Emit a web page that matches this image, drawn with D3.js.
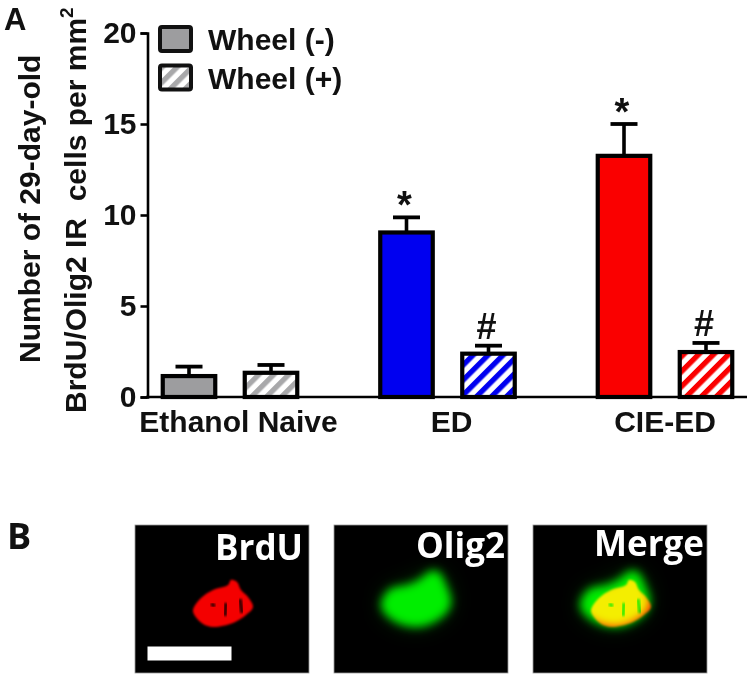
<!DOCTYPE html>
<html>
<head>
<meta charset="utf-8">
<title>BrdU/Olig2 cells</title>
<script src="https://d3js.org/d3.v7.min.js"></script>
<style>
  html, body { margin: 0; padding: 0; background: #fff; }
  svg { display: block; }
  text { font-family: "Liberation Sans", Arial, sans-serif; font-weight: bold; fill: #111; }
  .panelText { font-family: "Open Sans", sans-serif; }
</style>
</head>
<body>
<svg id="canvas" width="750" height="676"></svg>
<script>
// values
var groups = ['Ethanol Naive', 'ED', 'CIE-ED'];
var wheels = ['Wheel (-)', 'Wheel (+)'];
var means = [1.15, 1.33, 9.04, 2.38, 13.25, 2.47];
var errorTops = [1.67, 1.76, 9.87, 2.82, 15.0, 2.97];
var barColors = ['#9d9d9f', '#a8a8aa', '#0000f0', '#0000f0', '#fa0000', '#fa0000'];
var marks = ['', '', '*', '#', '*', '#'];
var yTicks = [0, 5, 10, 15, 20];

// cell outlines for the micrographs, in panel pixels
var redCell = [[58,85],[66,73],[78,65],[93,60],[96,55],[102,57],[106,65],[113,72],[118,82],[111,90],[98,98],[78,102],[68,99],[60,91]];
var greenCell = [[49,80],[57,66],[74,62],[87,56],[95,49],[103,48],[112,65],[115,78],[105,92],[82,100],[59,93]];
var cellScratches = [[[76,79],[80,81]], [[91,78],[90,91]], [[105,74],[107,88]]];

var panels = ['BrdU', 'Olig2', 'Merge'];
var panelBaselines = [35, 33, 31];
var panelRights = [168, 171, 171];

var svg = d3.select('#canvas');

// group band, then the two wheel bars inside it
var x0 = d3.scaleBand().domain(groups).range([121.25, 773.75]);
var x1 = d3.scalePoint().domain(wheels).range([67.75, 149.75]);
var y = d3.scaleLinear().domain([0, 20]).range([397, 33]);
var barWidth = 52.5;

function barX(i) {
  return x0(groups[Math.floor(i / 2)]) + x1(wheels[i % 2]);
}

// striped fills
var defs = svg.append('defs');
function addStripes(id, color) {
  var p = defs.append('pattern')
    .attr('id', id)
    .attr('patternUnits', 'userSpaceOnUse')
    .attr('width', 10.6)
    .attr('height', 10.6)
    .attr('patternTransform', 'rotate(-45)');
  p.append('rect').attr('width', 10.6).attr('height', 10.6).attr('fill', '#fff');
  p.append('rect').attr('width', 10.6).attr('height', 5.3).attr('fill', color);
}
addStripes('stripeGrey', barColors[1]);
addStripes('stripeBlue', barColors[3]);
addStripes('stripeRed', barColors[5]);
var stripeIds = { 1: 'stripeGrey', 3: 'stripeBlue', 5: 'stripeRed' };

defs.append('filter').attr('id', 'blurTiny').append('feGaussianBlur').attr('stdDeviation', 0.9);
defs.append('filter').attr('id', 'blurSoft')
  .attr('x', '-40%').attr('y', '-40%').attr('width', '180%').attr('height', '180%')
  .append('feGaussianBlur').attr('stdDeviation', 5);
defs.append('filter').attr('id', 'blurWide')
  .attr('x', '-80%').attr('y', '-80%').attr('width', '260%').attr('height', '260%')
  .append('feGaussianBlur').attr('stdDeviation', 13);

// error bars go under the bars
var errors = svg.append('g').selectAll('g')
  .data(means)
  .enter()
  .append('g');
errors.append('line')
  .attr('x1', function(d, i) { return barX(i); })
  .attr('x2', function(d, i) { return barX(i); })
  .attr('y1', function(d) { return y(d); })
  .attr('y2', function(d, i) { return y(errorTops[i]); })
  .attr('stroke', '#000')
  .attr('stroke-width', 3.6);
errors.append('line')
  .attr('x1', function(d, i) { return barX(i) - 13.5; })
  .attr('x2', function(d, i) { return barX(i) + 13.5; })
  .attr('y1', function(d, i) { return y(errorTops[i]); })
  .attr('y2', function(d, i) { return y(errorTops[i]); })
  .attr('stroke', '#000')
  .attr('stroke-width', 3.8);

svg.append('g').selectAll('rect')
  .data(means)
  .enter()
  .append('rect')
  .attr('x', function(d, i) { return barX(i) - barWidth / 2; })
  .attr('y', function(d) { return y(d); })
  .attr('width', barWidth)
  .attr('height', function(d) { return y(0) - y(d); })
  .attr('fill', function(d, i) { return stripeIds[i] ? 'url(#' + stripeIds[i] + ')' : barColors[i]; })
  .attr('stroke', '#000')
  .attr('stroke-width', 4.2);

// significance marks sit above the caps
svg.append('g').selectAll('text')
  .data(marks)
  .enter()
  .append('text')
  .attr('x', function(d, i) { return barX(i) - 2; })
  .attr('y', function(d, i) { return y(errorTops[i]) + (d === '*' ? 1 : -7); })
  .attr('text-anchor', 'middle')
  .style('font-size', function(d) { return d === '*' ? '38px' : '36px'; })
  .text(function(d) { return d; });

// axes
var yAxis = svg.append('g')
  .attr('transform', 'translate(147.5,0)')
  .call(d3.axisLeft(y).tickValues(yTicks).tickSize(7).tickPadding(4));
yAxis.select('.domain').attr('stroke', '#000').attr('stroke-width', 2.6);
yAxis.selectAll('.tick line').attr('stroke', '#000').attr('stroke-width', 2.6);
yAxis.selectAll('.tick text')
  .style('font-family', '"Liberation Sans", sans-serif')
  .style('font-size', '30px')
  .style('font-weight', 'bold')
  .attr('fill', '#111');

var xAxis = svg.append('g')
  .attr('transform', 'translate(0,397)')
  .call(d3.axisBottom(x0).tickSize(0).tickPadding(14));
xAxis.select('.domain').attr('d', 'M146,0H747').attr('stroke', '#000').attr('stroke-width', 2.6);
xAxis.selectAll('.tick text')
  .style('font-family', '"Liberation Sans", sans-serif')
  .style('font-size', '30px')
  .style('font-weight', 'bold')
  .attr('fill', '#111')
  .attr('dx', function(d) { return d === groups[0] ? 8.5 : (d === 'ED' ? 4 : 0); });

// y title, two lines
svg.append('text')
  .attr('transform', 'translate(40,363) rotate(-90)')
  .style('font-size', '30px')
  .text('Number of 29-day-old');
var title2 = svg.append('text')
  .attr('transform', 'translate(86,413) rotate(-90)')
  .style('font-size', '30px');
title2.append('tspan').attr('xml:space', 'preserve').text('BrdU/Olig2 IR  cells per mm');
title2.append('tspan').attr('dy', -13).style('font-size', '19px').text('2');

// legend
var legend = svg.append('g').selectAll('g')
  .data(wheels)
  .enter()
  .append('g')
  .attr('transform', function(d, i) { return 'translate(160,' + (27 + i * 38.5) + ')'; });
legend.append('rect')
  .attr('width', 31)
  .attr('height', 24)
  .attr('rx', 2)
  .attr('fill', function(d, i) { return i ? 'url(#stripeGrey)' : barColors[0]; })
  .attr('stroke', '#111')
  .attr('stroke-width', 4);
legend.append('text')
  .attr('x', 48)
  .attr('y', 23)
  .style('font-size', '30px')
  .text(function(d) { return d; });

// panel letters
svg.append('text').attr('x', 4).attr('y', 29.5).style('font-size', '31px').text('A');
svg.append('text').attr('class', 'panelText').attr('x', 7).attr('y', 549).style('font-size', '36px').text('B');

// micrographs
var cellLine = d3.line().curve(d3.curveCatmullRomClosed);
var scratchLine = d3.line();
var panelX = d3.scalePoint().domain(panels).range([135, 533]);

function drawGreen(g) {
  g.append('path').attr('d', cellLine(greenCell)).attr('fill', '#0a5a0a').attr('opacity', 0.55).attr('filter', 'url(#blurWide)');
  g.append('path').attr('d', cellLine(greenCell))
    .attr('fill', '#00ee00')
    .attr('stroke', '#00ee00')
    .attr('stroke-width', 4)
    .attr('filter', 'url(#blurSoft)');
}
function drawRed(g) {
  g.append('path').attr('d', cellLine(redCell)).attr('fill', '#f40000').attr('filter', 'url(#blurTiny)');
  g.selectAll('.scratch')
    .data(cellScratches)
    .enter()
    .append('path')
    .attr('class', 'scratch')
    .attr('d', scratchLine)
    .attr('fill', 'none')
    .attr('stroke', '#000')
    .attr('stroke-width', 3.6)
    .attr('opacity', 0.8)
    .attr('filter', 'url(#blurTiny)');
}

panels.forEach(function(name, i) {
  var g = svg.append('g').attr('transform', 'translate(' + panelX(name) + ',525)');
  defs.append('clipPath').attr('id', 'clip' + name)
    .append('rect').attr('width', 174).attr('height', 148);
  g.append('rect').attr('width', 174).attr('height', 148).attr('fill', '#000').attr('stroke', '#999').attr('stroke-width', 0.8);
  var inner = g.append('g').attr('clip-path', 'url(#clip' + name + ')').style('isolation', 'isolate');
  if (name !== 'BrdU') drawGreen(inner);
  if (name !== 'Olig2') drawRed(inner.append('g').style('mix-blend-mode', 'screen'));
  g.append('text')
    .attr('class', 'panelText')
    .attr('x', panelRights[i])
    .attr('y', panelBaselines[i])
    .attr('text-anchor', 'end')
    .style('font-size', '35px')
    .style('fill', '#fff')
    .text(name);
  if (name === 'BrdU') {
    g.append('rect').attr('x', 12.5).attr('y', 121.5).attr('width', 84).attr('height', 14).attr('fill', '#fff');
  }
});
</script>
</body>
</html>
